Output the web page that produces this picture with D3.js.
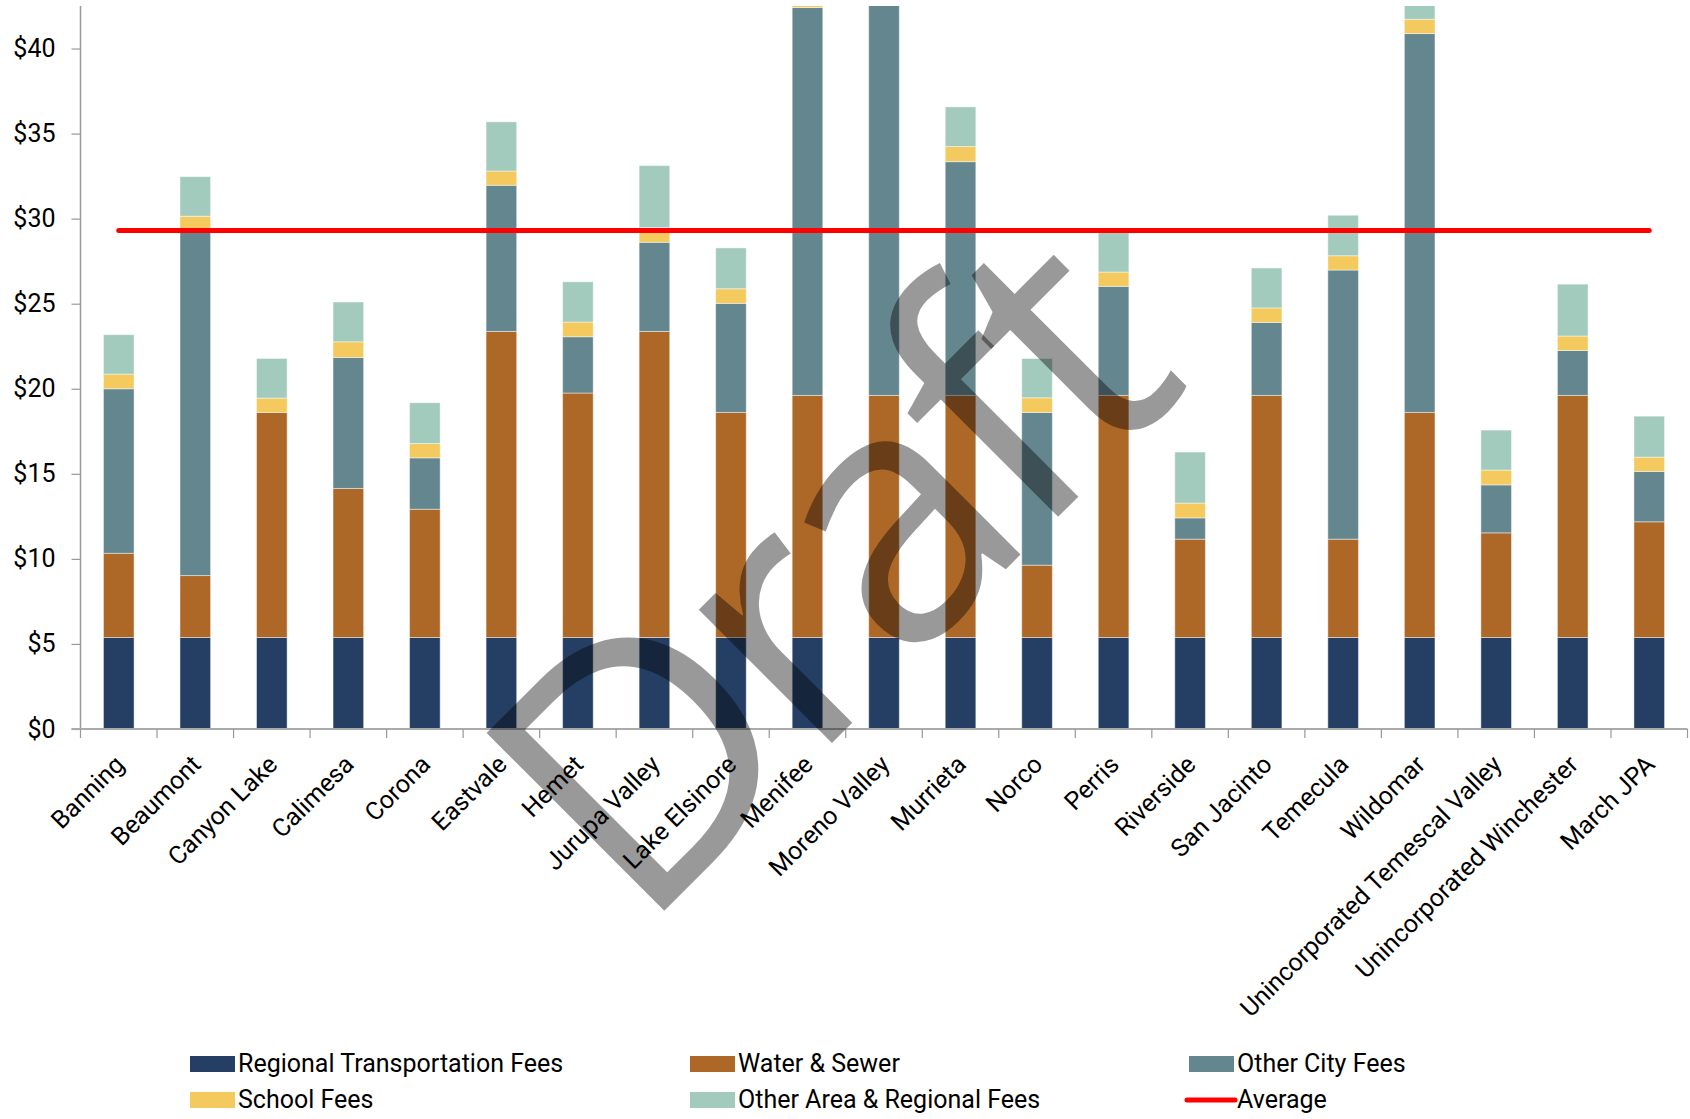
<!DOCTYPE html>
<html lang="en">
<head>
  <meta charset="UTF-8">
  <title>Development Fees per Square Foot by Jurisdiction</title>
  <script src="https://cdn.jsdelivr.net/npm/d3@7"></script>
  <style>
    html, body { margin: 0; padding: 0; background: #fff; }
    svg { display: block; font-family: Roboto, "Noto Sans", sans-serif; }
  </style>
</head>
<body>
  <script>
    // ------------- Data -------------
    const categories = ["Banning", "Beaumont", "Canyon Lake", "Calimesa", "Corona", "Eastvale", "Hemet",
      "Jurupa Valley", "Lake Elsinore", "Menifee", "Moreno Valley", "Murrieta", "Norco", "Perris",
      "Riverside", "San Jacinto", "Temecula", "Wildomar", "Unincorporated Temescal Valley",
      "Unincorporated Winchester", "March JPA"];

    const regionalTransport = [5.38, 5.38, 5.38, 5.38, 5.38, 5.38, 5.38, 5.38, 5.38, 5.38, 5.38,
      5.38, 5.38, 5.38, 5.38, 5.38, 5.38, 5.38, 5.38, 5.38, 5.38];
    const waterSewer = [4.95, 3.64, 13.23, 8.76, 7.54, 17.99, 14.37, 17.99, 13.23, 14.23, 14.23,
      14.23, 4.25, 14.23, 5.78, 14.23, 5.78, 13.23, 6.15, 14.23, 6.8];
    const otherCity = [9.67, 20.26, 0, 7.7, 3.02, 8.59, 3.31, 5.24, 6.41, 22.8, 24.5,
      13.74, 8.98, 6.41, 1.25, 4.29, 15.82, 22.27, 2.82, 2.64, 2.96];
    const schoolFees = [0.86, 0.86, 0.84, 0.92, 0.84, 0.84, 0.86, 0.86, 0.86, 0.86, 0.86,
      0.89, 0.86, 0.84, 0.87, 0.85, 0.84, 0.84, 0.87, 0.85, 0.84];
    const otherArea = [2.32, 2.33, 2.33, 2.34, 2.4, 2.89, 2.37, 3.65, 2.4, 2.4, 2.4,
      2.33, 2.31, 2.33, 3.0, 2.35, 2.38, 2.35, 2.35, 3.05, 2.41];
    const averageFee = 29.3;

    const yTicks = [0, 5, 10, 15, 20, 25, 30, 35, 40];

    const series = [
      { key: "rt", name: "Regional Transportation Fees", values: regionalTransport, color: "#243F63" },
      { key: "ws", name: "Water & Sewer", values: waterSewer, color: "#AD6727" },
      { key: "oc", name: "Other City Fees", values: otherCity, color: "#64868F" },
      { key: "sf", name: "School Fees", values: schoolFees, color: "#F4C95D" },
      { key: "oa", name: "Other Area & Regional Fees", values: otherArea, color: "#A3CBBD" }
    ];

    // ------------- Layout -------------
    const width = 1690, height = 1119;
    const plot = { left: 80.5, right: 1687.5, top: 6, bottom: 729 };

    const svg = d3.select("body").append("svg")
      .attr("width", width)
      .attr("height", height);

    const x = d3.scaleBand()
      .domain(categories)
      .range([plot.left, plot.right])
      .paddingInner(0.6)
      .paddingOuter(0.3);

    const y = d3.scaleLinear()
      .domain([0, 42.5])
      .range([plot.bottom, plot.top]);

    // rows for the stack
    const rows = categories.map((c, i) => {
      const r = { cat: c };
      series.forEach(s => r[s.key] = s.values[i]);
      return r;
    });
    const stacked = d3.stack().keys(series.map(s => s.key))(rows);
    const colorOf = Object.fromEntries(series.map(s => [s.key, s.color]));

    // clip bars at the top of the value axis
    svg.append("defs").append("clipPath").attr("id", "plot-clip")
      .append("rect")
      .attr("x", plot.left).attr("y", plot.top)
      .attr("width", plot.right - plot.left)
      .attr("height", plot.bottom - plot.top);

    // ------------- Bars -------------
    svg.append("g")
      .attr("clip-path", "url(#plot-clip)")
      .selectAll("g")
      .data(stacked)
      .join("g")
      .attr("fill", d => colorOf[d.key])
      .selectAll("rect")
      .data(d => d)
      .join("rect")
      .attr("x", d => x(d.data.cat))
      .attr("width", x.bandwidth())
      .attr("y", d => y(d[1]))
      .attr("height", d => y(d[0]) - y(d[1]))
      .attr("stroke", "#ffffff")
      .attr("stroke-opacity", 0.45)
      .attr("stroke-width", 1);

    // ------------- Y axis -------------
    const yAxis = svg.append("g")
      .attr("transform", `translate(${plot.left},0)`)
      .call(d3.axisLeft(y).tickValues(yTicks).tickFormat(d => "$" + d)
        .tickSize(9).tickSizeOuter(0).tickPadding(16));
    yAxis.select(".domain").attr("stroke", "#999").attr("stroke-width", 1.5)
      .attr("d", `M0,${plot.top}V${plot.bottom}`);
    yAxis.selectAll(".tick line").attr("stroke", "#999").attr("stroke-width", 1.2);
    yAxis.selectAll(".tick text")
      .attr("font-size", 25).attr("fill", "#000")
      .attr("font-family", "Roboto, sans-serif");

    // ------------- X axis -------------
    const xAxis = svg.append("g").attr("transform", `translate(0,${plot.bottom})`);
    xAxis.append("line")
      .attr("x1", plot.left - 9).attr("x2", plot.right)
      .attr("stroke", "#aaa").attr("stroke-width", 2);
    // tick marks sit on the category boundaries
    const step = x.step();
    const bounds = categories.map(c => x(c) + x.bandwidth() / 2 - step / 2);
    bounds.push(plot.right);
    xAxis.selectAll("line.tick")
      .data(bounds)
      .join("line")
      .attr("class", "tick")
      .attr("x1", d => d).attr("x2", d => d)
      .attr("y1", 0).attr("y2", 9)
      .attr("stroke", "#999").attr("stroke-width", 1.2);
    xAxis.selectAll("text")
      .data(categories)
      .join("text")
      .attr("transform", d => `translate(${x(d) + x.bandwidth() / 2 + 7},${37}) rotate(-45)`)
      .attr("text-anchor", "end")
      .attr("font-size", 25)
      .attr("fill", "#000")
      .text(d => d);

    // ------------- Average line -------------
    const avgLine = d3.line()
      .x(d => x(d) + x.bandwidth() / 2)
      .y(() => y(averageFee));
    svg.append("path")
      .datum(categories)
      .attr("d", avgLine)
      .attr("fill", "none")
      .attr("stroke", "#FF0000")
      .attr("stroke-width", 5)
      .attr("stroke-linecap", "round");

    // ------------- Legend -------------
    const legendItems = [
      { name: series[0].name, color: series[0].color },
      { name: series[1].name, color: series[1].color },
      { name: series[2].name, color: series[2].color },
      { name: series[3].name, color: series[3].color },
      { name: series[4].name, color: series[4].color },
      { name: "Average", color: "#FF0000", line: true }
    ];
    const colX = [190, 690, 1189];
    const rowY = [1064, 1100];
    const legend = svg.append("g")
      .selectAll("g")
      .data(legendItems)
      .join("g")
      .attr("transform", (d, i) => `translate(${colX[i % 3]},${rowY[Math.floor(i / 3)]})`);
    legend.filter(d => !d.line).append("rect")
      .attr("x", 0).attr("y", -8)
      .attr("width", 45).attr("height", 16)
      .attr("fill", d => d.color);
    legend.filter(d => d.line).append("line")
      .attr("x1", -2).attr("x2", 46)
      .attr("stroke", d => d.color)
      .attr("stroke-width", 5)
      .attr("stroke-linecap", "round");
    legend.append("text")
      .attr("x", 48).attr("y", 8)
      .attr("font-size", 25)
      .attr("fill", "#000")
      .text(d => d.name);

    // ------------- Watermark -------------
    svg.append("text")
      .attr("transform", "translate(640,935) rotate(-45)")
      .attr("font-size", 352)
      .attr("font-family", "'Open Sans', sans-serif")
      .attr("letter-spacing", -14)
      .attr("fill", "#000")
      .attr("fill-opacity", 0.4)
      .text("Draft");
  </script>
</body>
</html>
